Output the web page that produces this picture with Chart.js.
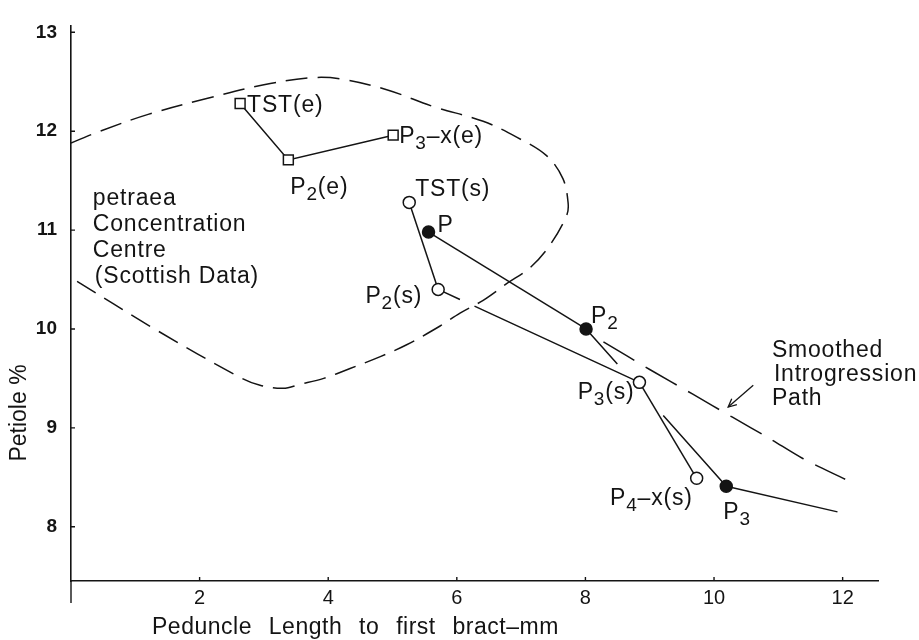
<!DOCTYPE html>
<html>
<head>
<meta charset="utf-8">
<script src="https://cdn.jsdelivr.net/npm/chart.js@4/dist/chart.umd.min.js"></script>
<style>
html,body{margin:0;padding:0;background:#fff;}
#wrap{width:919px;height:640px;position:relative;}
</style>
</head>
<body>
<div id="wrap"><canvas id="c" width="919" height="640"></canvas></div>
<script>
// ---- data ----
const xTicks = [2, 4, 6, 8, 10, 12];
const yTicks = [8, 9, 10, 11, 12, 13];

// (e) series: open squares
const eLabels = ['TST(e)', 'P_2(e)', 'P_3–x(e)'];
const eX = [2.63, 3.38, 5.01];
const eY = [12.28, 11.71, 11.96];

// (s) series: open circles
const sLabels = ['TST(s)', 'P_2(s)', 'P_3(s)', 'P_4–x(s)'];
const sX = [5.26, 5.71, 8.84, 9.73];
const sY = [11.28, 10.40, 9.46, 8.49];

// filled series (last value is the line end, no marker)
const fLabels = ['P', 'P_2', 'P_3', ''];
const fX = [5.56, 8.01, 10.19, 11.92];
const fY = [10.98, 10.00, 8.41, 8.15];

// petraea concentration centre contour (dashed)
const contourX = [0, 0.45, 1.2, 2.11, 3.0, 3.72, 4.18, 4.91, 5.63, 6.41, 6.93, 7.40, 7.65, 7.73, 7.71, 7.45, 7.14, 6.78, 6.41, 6.05, 5.74, 5.22, 4.81, 4.34, 3.93, 3.56, 3.30, 2.94, 2.63, 1.3, 0];
const contourY = [11.88, 12.00, 12.17, 12.33, 12.47, 12.54, 12.53, 12.42, 12.25, 12.10, 11.94, 11.75, 11.52, 11.28, 11.15, 10.85, 10.62, 10.46, 10.29, 10.16, 10.03, 9.84, 9.72, 9.60, 9.50, 9.44, 9.40, 9.43, 9.51, 10.0, 10.52];

// smoothed introgression path (dashed)
const pathX = [8.28, 9.00, 9.67, 10.28, 10.87, 11.38, 12.04];
const pathY = [9.87, 9.59, 9.34, 9.11, 8.89, 8.69, 8.48];

// pointer arrow (tail -> head)
const arrowX = [10.61, 10.22];
const arrowY = [9.43, 9.21];

const blockText1 = ['petraea', 'Concentration', 'Centre', '(Scottish Data)'];
const blockText2 = ['Smoothed', 'Introgression', 'Path'];
const xTitle = 'Peduncle Length to first bract–mm';
const yTitle = 'Petiole %';

// ---- presentation ----
const FONT = '"Liberation Sans", Arial, Helvetica, sans-serif';
const INK = '#141414';
Chart.defaults.font.family = FONT;

const pts = (xs, ys) => xs.map((x, i) => ({x: x, y: ys[i]}));

// label placement (px offsets from the point; dy = cap centre)
const ePlace = [{a:'left',dx:7,dy:0},{a:'left',dx:2,dy:26},{a:'left',dx:6,dy:0}];
const sPlace = [{a:'left',dx:6,dy:-14},{a:'right',dx:-16,dy:6},{a:'right',dx:-5,dy:9},{a:'right',dx:-4,dy:19}];
const fPlace = [{a:'left',dx:9,dy:-8},{a:'left',dx:5,dy:-14},{a:'left',dx:-3,dy:25},null];

function parseLabel(str){
  const out = [];
  let i = 0, buf = '';
  while (i < str.length){
    if (str[i] === '_' && i + 1 < str.length){
      if (buf) { out.push({t:buf, sub:false}); buf=''; }
      out.push({t:str[i+1], sub:true});
      i += 2;
    } else { buf += str[i]; i++; }
  }
  if (buf) out.push({t:buf, sub:false});
  return out;
}

function drawLabel(ctx, str, x, capY, align){
  const parts = parseLabel(str);
  const mainF = '23px ' + FONT, subF = '19px ' + FONT;
  let total = 0;
  parts.forEach(p => { ctx.font = p.sub ? subF : mainF; p.w = ctx.measureText(p.t).width; total += p.w; });
  let cx = align === 'right' ? x - total : x;
  const base = capY + 8;
  parts.forEach(p => {
    ctx.font = p.sub ? subF : mainF;
    ctx.fillText(p.t, cx, p.sub ? base + 6 : base);
    cx += p.w;
  });
}

const annot = {
  id: 'annot',
  afterDatasetsDraw(chart){
    const ctx = chart.ctx, xs = chart.scales.x, ys = chart.scales.y, area = chart.chartArea;
    ctx.save();
    ctx.fillStyle = INK;
    ctx.strokeStyle = INK;
    ctx.textAlign = 'left';
    ctx.textBaseline = 'alphabetic';
    ctx.letterSpacing = '0.8px';

    // point labels
    const groups = [[eLabels,eX,eY,ePlace],[sLabels,sX,sY,sPlace],[fLabels,fX,fY,fPlace]];
    groups.forEach(([L,X,Y,P]) => {
      L.forEach((lab, i) => {
        if (!lab || !P[i]) return;
        const px = xs.getPixelForValue(X[i]), py = ys.getPixelForValue(Y[i]);
        drawLabel(ctx, lab, px + P[i].dx, py + P[i].dy, P[i].a);
      });
    });

    // text blocks
    ctx.font = '23px ' + FONT;
    const b1x = xs.getPixelForValue(0.34), b1y = ys.getPixelForValue(11.25);
    blockText1.forEach((t, i) => ctx.fillText(t, b1x + (i === 3 ? 2 : 0), b1y + i * 26));
    const b2x = xs.getPixelForValue(10.90), b2y = ys.getPixelForValue(9.717);
    blockText2.forEach((t, i) => ctx.fillText(t, b2x + (i === 1 ? 2 : 0), b2y + i * 24));

    // arrow head
    const ax0 = xs.getPixelForValue(arrowX[0]), ay0 = ys.getPixelForValue(arrowY[0]);
    const ax1 = xs.getPixelForValue(arrowX[1]), ay1 = ys.getPixelForValue(arrowY[1]);
    const ang = Math.atan2(ay1 - ay0, ax1 - ax0);
    ctx.lineWidth = 1.3;
    ctx.beginPath();
    ctx.moveTo(ax1 - 9 * Math.cos(ang - 0.45), ay1 - 9 * Math.sin(ang - 0.45));
    ctx.lineTo(ax1, ay1);
    ctx.lineTo(ax1 - 9 * Math.cos(ang + 0.45), ay1 - 9 * Math.sin(ang + 0.45));
    ctx.stroke();

    // inward tick marks
    ctx.lineWidth = 1.4;
    ctx.beginPath();
    xTicks.forEach(v => { const p = xs.getPixelForValue(v); ctx.moveTo(p, area.bottom); ctx.lineTo(p, area.bottom - 4); });
    yTicks.forEach(v => { const p = ys.getPixelForValue(v); ctx.moveTo(area.left, p); ctx.lineTo(area.left + 4, p); });
    // y axis continues a little below the x axis
    ctx.moveTo(area.left, area.bottom);
    ctx.lineTo(area.left, area.bottom + 22);
    ctx.stroke();

    // axis titles
    ctx.font = '23px ' + FONT;
    ctx.letterSpacing = '0.5px';
    ctx.wordSpacing = '10px';
    ctx.fillText(xTitle, xs.getPixelForValue(1.26), area.bottom + 53);
    ctx.wordSpacing = '0px';
    ctx.save();
    ctx.translate(26, ys.getPixelForValue(9.15));
    ctx.rotate(-Math.PI / 2);
    ctx.textAlign = 'center';
    ctx.letterSpacing = '0px';
    ctx.fillText(yTitle, 0, 0);
    ctx.restore();

    ctx.restore();
  }
};

const lineBase = {showLine: true, borderColor: INK, borderWidth: 1.5, pointBorderColor: INK, pointBorderWidth: 1.5, tension: 0, fill: false};

new Chart(document.getElementById('c').getContext('2d'), {
  type: 'scatter',
  data: {
    datasets: [
      Object.assign({}, lineBase, {
        label: 'filled', data: pts(fX, fY), pointStyle: 'circle',
        pointRadius: fX.map((v, i) => fLabels[i] ? 6 : 0), pointBackgroundColor: INK,
        segment: { borderDash: c => c.p0DataIndex === 1 ? [47, 69, 400] : undefined }
      }),
      Object.assign({}, lineBase, {
        label: 's', data: pts(sX, sY), pointStyle: 'circle', pointRadius: 6, pointBackgroundColor: '#fff',
        segment: { borderDash: c => c.p0DataIndex === 1 ? [24, 16, 400] : undefined }
      }),
      Object.assign({}, lineBase, {
        label: 'e', data: pts(eX, eY), pointStyle: 'rect', pointRadius: 7, pointBackgroundColor: '#fff'
      }),
      Object.assign({}, lineBase, {
        label: 'arrow', data: pts(arrowX, arrowY), pointRadius: 0, borderWidth: 1.3
      }),
      Object.assign({}, lineBase, {
        label: 'path', data: pts(pathX, pathY), pointRadius: 0, borderDash: [36, 13], tension: 0.3
      }),
      Object.assign({}, lineBase, {
        label: 'contour', data: pts(contourX, contourY), pointRadius: 0, borderDash: [22, 10], tension: 0.35
      })
    ]
  },
  options: {
    responsive: false,
    animation: false,
    events: [],
    layout: { padding: { left: 0, right: 41, top: 18, bottom: 0 } },
    plugins: { legend: { display: false }, tooltip: { enabled: false } },
    scales: {
      x: {
        type: 'linear', min: 0, max: 12.55,
        afterFit: s => { s.height = 59; },
        afterBuildTicks: s => { s.ticks = xTicks.map(v => ({value: v})); },
        grid: { display: false, drawTicks: false },
        border: { display: true, color: INK, width: 1.6 },
        ticks: { font: { size: 20 }, color: INK, padding: 5, maxRotation: 0, autoSkip: false }
      },
      y: {
        type: 'linear', min: 7.451, max: 13.07,
        afterFit: s => { s.width = 71; },
        afterBuildTicks: s => { s.ticks = yTicks.map(v => ({value: v})); },
        grid: { display: false, drawTicks: false },
        border: { display: true, color: INK, width: 1.6 },
        ticks: { font: { size: 19, weight: 'bold' }, color: INK, padding: 14, autoSkip: false }
      }
    }
  },
  plugins: [annot]
});
</script>
</body>
</html>
